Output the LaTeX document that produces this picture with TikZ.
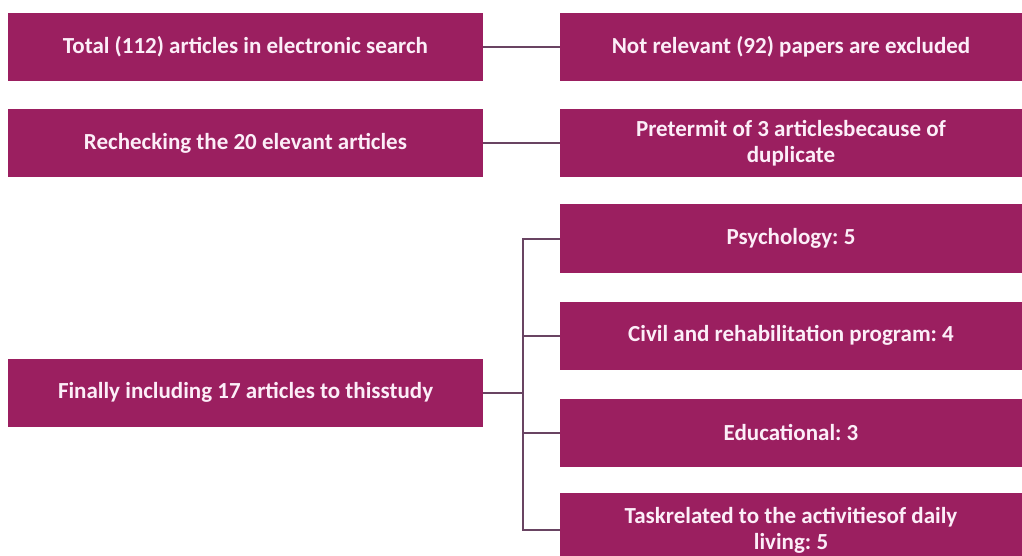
\documentclass[tikz,border=0pt]{standalone}
\usepackage{fontspec}
\setmainfont{Carlito}
\frenchspacing
\definecolor{boxfill}{RGB}{155,31,96}
\definecolor{linkline}{RGB}{105,68,98}
\definecolor{boxtext}{RGB}{252,238,248}
\begin{document}
\begin{tikzpicture}[x=1pt,y=-1pt,
  box/.style={fill=boxfill, draw=none, inner sep=0pt, outer sep=0pt,
    text=boxtext, font=\bfseries\fontsize{23}{26}\selectfont,
    align=center, minimum height=68pt},
  lbox/.style={box, minimum width=475pt},
  rbox/.style={box, minimum width=462pt},
  link/.style={draw=linkline, line width=2pt}]
  \useasboundingbox (0,0) rectangle (1022,556);
  \begin{scope}
  \clip (0,0) rectangle (1022,556);
  % screening steps
  \node[lbox] (total) at (245.5,47) {Total (112) articles in electronic search};
  \node[rbox] (notrel) at (791,47) {Not relevant (92) papers are excluded};
  \node[lbox] (recheck) at (245.5,143.5) {Rechecking the 20 elevant articles};
  \node[rbox] (pretermit) at (791,143.5) {Pretermit of 3 articlesbecause of\\duplicate};
  \node[lbox] (final) at (245.5,392.5) {Finally including 17 articles to thisstudy};
  % categories of the included articles
  \node[rbox] (psych) at (791,238.5) {Psychology: 5};
  \node[rbox] (civil) at (791,335.5) {Civil and rehabilitation program: 4};
  \node[rbox] (edu) at (791,432.5) {Educational: 3};
  \node[rbox, minimum height=74pt] (task) at (791,530) {Taskrelated to the activitiesof daily\\living: 5};
  \end{scope}
  % connectors
  \draw[link] (total.east) -- (notrel.west);
  \draw[link] (recheck.east) -- (pretermit.west);
  \coordinate (fork) at (523,392.5);
  \draw[link] (final.east) -- (fork);
  \draw[link] (psych.west) -- (psych.west -| fork) -- (task.west -| fork) -- (task.west);
  \draw[link] (civil.west) -- (civil.west -| fork);
  \draw[link] (edu.west) -- (edu.west -| fork);
\end{tikzpicture}
\end{document}
